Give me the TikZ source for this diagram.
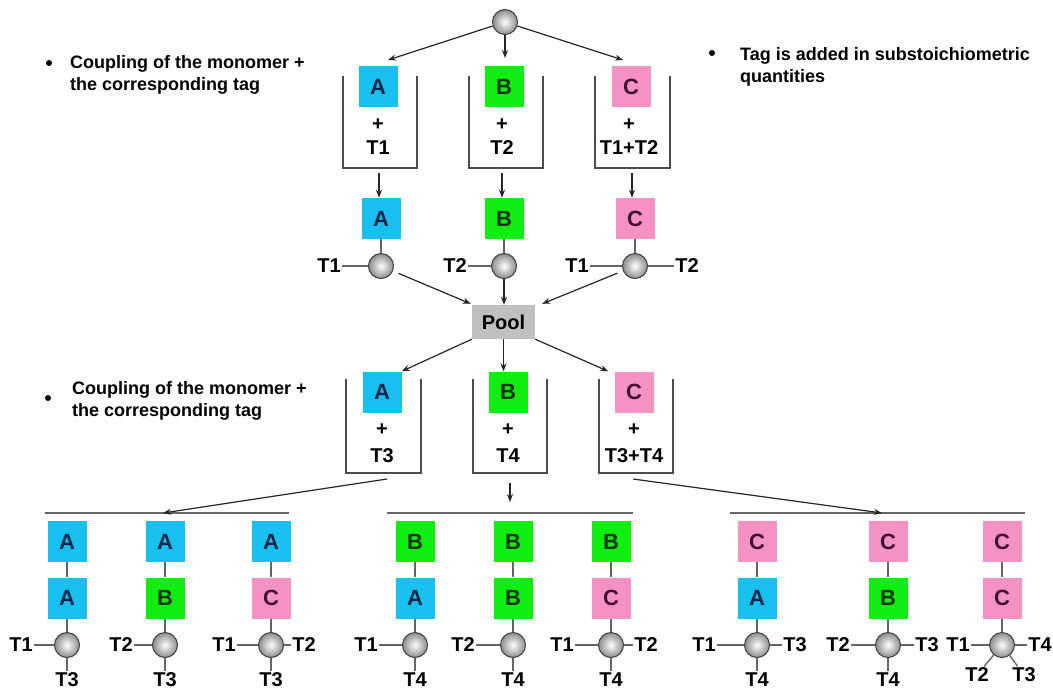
\documentclass[tikz,border=0pt]{standalone}
\usepackage{fontspec}
\setmainfont{Liberation Sans}
\usetikzlibrary{arrows.meta,calc}
\definecolor{cA}{RGB}{24,192,240}
\definecolor{cB}{RGB}{16,238,16}
\definecolor{cC}{RGB}{244,146,196}
\definecolor{tA}{RGB}{12,36,72}
\definecolor{tB}{RGB}{16,48,16}
\definecolor{tC}{RGB}{64,16,48}
\definecolor{poolc}{RGB}{192,192,192}
\tikzset{
 mono/.style={minimum width=39pt,minimum height=41pt,inner sep=0pt,font=\fontsize{22}{22}\selectfont\bfseries},
 mA/.style={mono,fill=cA,text=tA},
 mB/.style={mono,fill=cB,text=tB},
 mC/.style={mono,fill=cC,text=tC},
 sph/.style={circle,minimum size=25pt,inner sep=0pt,draw=black!75,line width=1pt,shading=radial,inner color=white,outer color=black!45},
 tlab/.style={inner sep=1.5pt,font=\fontsize{20}{20}\selectfont\bfseries},
 link/.style={draw=black!60,line width=1.4pt},
 arr/.style={draw=black!85,line width=1.2pt,-{Stealth[length=8pt,width=6pt]}},
 beaker/.style={draw=black!70,line width=1.3pt},
 barline/.style={draw=black!60,line width=1.3pt},
 note/.style={anchor=north west,align=left,inner sep=0pt,font=\fontsize{18}{22}\selectfont\bfseries},
 bdot/.style={circle,fill=black,inner sep=0pt,minimum size=6pt},
 poolbox/.style={fill=poolc,minimum width=63pt,minimum height=34pt,inner sep=0pt,font=\fontsize{20}{20}\selectfont\bfseries},
}
\newcommand\monocol[6]{%
 \node[#3] (#1t) at (#2,541.5) {#4};
 \node[#5] (#1b) at (#2,598) {#6};
 \node[sph] (#1s) at (#2,645) {};
 \draw[link] (#1t) -- (#1b);
 \draw[link] (#1b) -- (#1s);
}
\begin{document}
\begin{tikzpicture}[x=1pt,y=-1pt]
\fill[white] (0,0) rectangle (1053,691);
\useasboundingbox (0,0) rectangle (1053,691);

% notes
\node[bdot] (d1) at (49,63) {};
\node[note] (n1) at (70,55) {Coupling of the monomer +\\the corresponding tag};
\node[bdot] (d2) at (712,53) {};
\node[note] (n2) at (740,47) {Tag is added in substoichiometric\\quantities};
\node[bdot] (d3) at (48,398) {};
\node[note] (n3) at (72,381) {Coupling of the monomer +\\the corresponding tag};

% top sphere
\node[sph] (s0) at (505,22) {};

% beakers row 1
\draw[beaker] (343,76) |- (417,168) -- (417,76);
\draw[beaker] (469,76) |- (543,168) -- (543,76);
\draw[beaker] (595,76) |- (670,168) -- (670,76);
\node[mA] (a1) at (378,86.5) {A};
\node[mB] (b1) at (504,86.5) {B};
\node[mC] (c1) at (631,86.5) {C};
\node[tlab] (pa1) at (378,125) {+};
\node[tlab] (ta1) at (378,148) {T1};
\node[tlab] (pb1) at (502,125) {+};
\node[tlab] (tb1) at (502,148) {T2};
\node[tlab] (pc1) at (629,125) {+};
\node[tlab] (tc1) at (629,148) {T1+T2};

\coordinate (ea1) at (388,60);
\coordinate (eb1) at (505,58);
\coordinate (ec1) at (623,60);
\draw[arr] (s0) -- (ea1);
\draw[arr] (s0) -- (eb1);
\draw[arr] (s0) -- (ec1);

% row 2
\coordinate (da1) at (379,173);
\coordinate (db1) at (502,173);
\coordinate (dc1) at (632,173);
\node[mA] (a2) at (381,218.5) {A};
\node[mB] (b2) at (504,218.5) {B};
\node[mC] (c2) at (635,218.5) {C};
\draw[arr] (da1) -- (da1 |- a2.north);
\draw[arr] (db1) -- (db1 |- b2.north);
\draw[arr] (dc1) -- (dc1 |- c2.north);
\node[sph] (sa2) at (381,266) {};
\node[sph] (sb2) at (504,266) {};
\node[sph] (sc2) at (635,266) {};
\draw[link] (a2) -- (sa2);
\draw[link] (b2) -- (sb2);
\draw[link] (c2) -- (sc2);
\node[tlab] (la2) at (329,266) {T1};
\node[tlab] (lb2) at (455,266) {T2};
\node[tlab] (lc2) at (577,266) {T1};
\node[tlab] (rc2) at (687,266) {T2};
\draw[link] (la2) -- (sa2);
\draw[link] (lb2) -- (sb2);
\draw[link] (lc2) -- (sc2);
\draw[link] (rc2) -- (sc2);

% pool
\node[poolbox] (pool) at (503.5,322) {Pool};
\draw[arr,shorten <=6pt] (sa2) -- ($(pool.north west)+(-1,-1)$);
\draw[arr] (sb2) -- (sb2 |- pool.north);
\draw[arr,shorten <=6pt] (sc2) -- ($(pool.north east)+(7,-1)$);

% beakers row 3
\draw[beaker] (346,379) |- (421,473) -- (421,379);
\draw[beaker] (473,379) |- (547,473) -- (547,379);
\draw[beaker] (599,379) |- (673,473) -- (673,379);
\node[mA] (a3) at (382,392) {A};
\node[mB] (b3) at (508,392) {B};
\node[mC] (c3) at (634,392) {C};
\node[tlab] (pa3) at (382,430) {+};
\node[tlab] (ta3) at (382,456) {T3};
\node[tlab] (pb3) at (508,430) {+};
\node[tlab] (tb3) at (508,456) {T4};
\node[tlab] (pc3) at (634,430) {+};
\node[tlab] (tc3) at (634,456) {T3+T4};
\draw[arr] (pool.south west) -- (a3.north east);
\draw[arr] (pool.south) -- (pool.south |- b3.north);
\draw[arr] (pool.south east) -- ($(c3.north west)+(-6,0)$);

% bars
\coordinate (barAl) at (45,513);
\coordinate (barAr) at (289,513);
\coordinate (barBl) at (387,513);
\coordinate (barBr) at (633,513);
\coordinate (barCl) at (730,513);
\coordinate (barCr) at (1025,513);
\draw[barline] (barAl) -- (barAr);
\draw[barline] (barBl) -- (barBr);
\draw[barline] (barCl) -- (barCr);
\coordinate (fa) at (387,479);
\coordinate (fb) at (510,483);
\coordinate (fc) at (633,479);
\coordinate (ga) at (163,513);
\coordinate (gb) at (510,502);
\coordinate (gc) at (882,513);
\draw[arr] (fa) -- (ga);
\draw[arr] (fb) -- (gb);
\draw[arr] (fc) -- (gc);

% bottom columns
\monocol{L1}{67}{mA}{A}{mA}{A}
\monocol{L2}{165}{mA}{A}{mB}{B}
\monocol{L3}{271}{mA}{A}{mC}{C}
\monocol{M1}{415}{mB}{B}{mA}{A}
\monocol{M2}{513}{mB}{B}{mB}{B}
\monocol{M3}{611}{mB}{B}{mC}{C}
\monocol{R1}{757}{mC}{C}{mA}{A}
\monocol{R2}{888}{mC}{C}{mB}{B}
\monocol{R3}{1002}{mC}{C}{mC}{C}

% bottom tags
\node[tlab] (L1l) at (21,645) {T1};
\node[tlab] (L1d) at (67,680) {T3};
\node[tlab] (L2l) at (121,645) {T2};
\node[tlab] (L2d) at (165,680) {T3};
\node[tlab] (L3l) at (224,645) {T1};
\node[tlab] (L3r) at (304,645) {T2};
\node[tlab] (L3d) at (271,680) {T3};
\node[tlab] (M1l) at (366,645) {T1};
\node[tlab] (M1d) at (415,680) {T4};
\node[tlab] (M2l) at (463,645) {T2};
\node[tlab] (M2d) at (513,680) {T4};
\node[tlab] (M3l) at (562,645) {T1};
\node[tlab] (M3r) at (646,645) {T2};
\node[tlab] (M3d) at (611,680) {T4};
\node[tlab] (R1l) at (704,645) {T1};
\node[tlab] (R1r) at (795,645) {T3};
\node[tlab] (R1d) at (757,680) {T4};
\node[tlab] (R2l) at (838,645) {T2};
\node[tlab] (R2r) at (927,645) {T3};
\node[tlab] (R2d) at (888,680) {T4};
\node[tlab] (R3l) at (958,645) {T1};
\node[tlab] (R3r) at (1040,645) {T4};
\node[tlab] (R3a) at (977,675) {T2};
\node[tlab] (R3c) at (1024,675) {T3};
\foreach \c in {L1,L2,L3,M1,M2,M3,R1,R2,R3} {
  \draw[link] (\c l) -- (\c s);
}
\foreach \c in {L3,M3,R1,R2,R3} {
  \draw[link] (\c r) -- (\c s);
}
\foreach \c in {L1,L2,L3,M1,M2,M3,R1,R2} {
  \draw[link] (\c s) -- (\c d);
}
\draw[link] (R3s) -- (R3a);
\draw[link] (R3s) -- (R3c);
\end{tikzpicture}
\end{document}
